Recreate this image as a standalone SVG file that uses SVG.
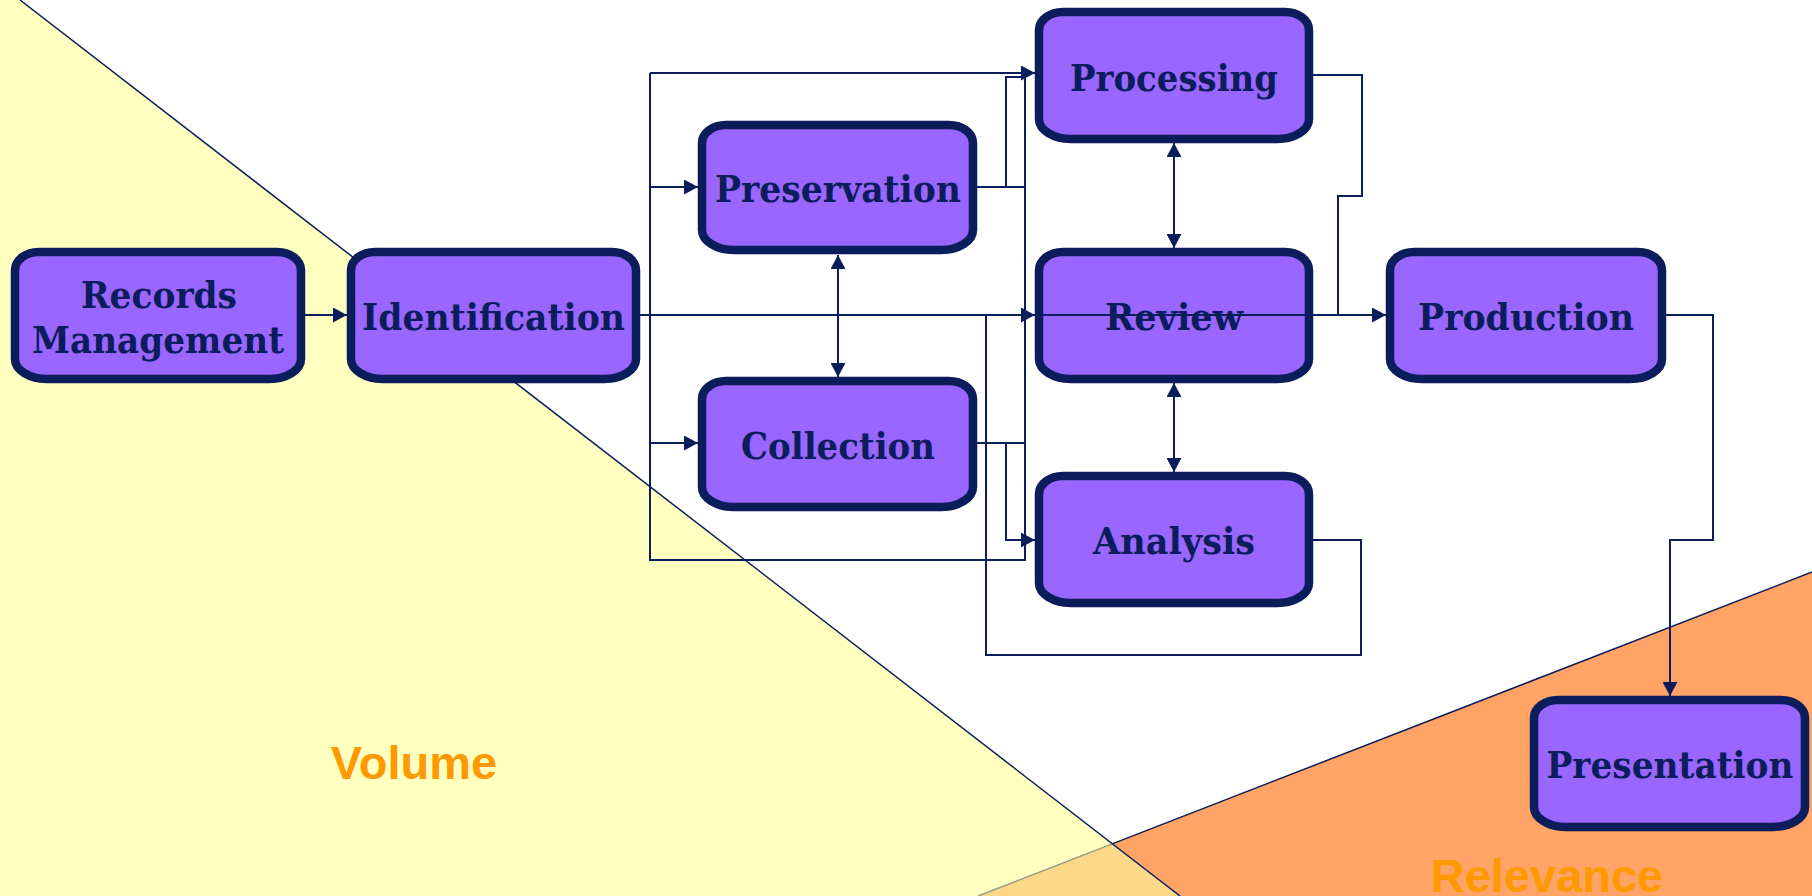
<svg xmlns="http://www.w3.org/2000/svg" width="1812" height="896" viewBox="0 0 1812 896">
<style>
.box{fill:#9966ff;stroke:#0b1d5a;stroke-width:8.5}
.lbl{font-family:"DejaVu Serif","Liberation Serif",serif;font-weight:bold;font-size:37px;fill:#0b1d5a;text-anchor:middle}
.con{fill:none;stroke:#0b1d5a;stroke-width:2}
.big{font-family:"Liberation Sans",Arial,sans-serif;font-weight:bold;font-size:47px;fill:#ff9900;text-anchor:middle}
</style>
<defs>
<marker id="ah" markerUnits="userSpaceOnUse" markerWidth="14" markerHeight="15" refX="14" refY="7.5" orient="auto-start-reverse">
<path d="M0,0 L14,7.5 L0,15 z" fill="#0b1d5a"/>
</marker>
</defs>
<rect width="1812" height="896" fill="#ffffff"/>
<g id="background">
<polygon points="0,0 20,0 1180,896 0,896" fill="#ffffc0"/>
<polygon points="978,896 1812,572 1812,896" fill="#ffa366"/>
<polygon points="1112.8,843.6 978,896 1180,896" fill="#fdd888"/>
<line x1="1812" y1="572" x2="1112.8" y2="843.6" stroke="#0b1d5a" stroke-width="1.5"/>
<line x1="1112.8" y1="843.6" x2="978" y2="896" stroke="#949c84" stroke-width="1.5"/>
<line x1="20" y1="0" x2="1180" y2="896" stroke="#0b1d5a" stroke-width="1.5"/>
<text class="big" x="414" y="779">Volume</text>
<text class="big" x="1547" y="892">Relevance</text>
</g>
<g id="records-management">
<path class="box" d="M39,252 H277 A24,18 0 0 1 301,270 V359 A32,20 0 0 1 269,379 H47 A32,20 0 0 1 15,359 V270 A24,18 0 0 1 39,252 Z"/>
<text class="lbl" x="159" y="308" textLength="156" lengthAdjust="spacingAndGlyphs">Records</text>
<text class="lbl" x="158" y="353" textLength="252" lengthAdjust="spacingAndGlyphs">Management</text>
</g>
<g id="identification">
<path class="box" d="M375,252 H612 A24,18 0 0 1 636,270 V359 A32,20 0 0 1 604,379 H383 A32,20 0 0 1 351,359 V270 A24,18 0 0 1 375,252 Z"/>
<text class="lbl" x="493.5" y="330" textLength="263" lengthAdjust="spacingAndGlyphs">Identification</text>
</g>
<g id="preservation">
<path class="box" d="M726,125 H949 A24,18 0 0 1 973,143 V230 A32,20 0 0 1 941,250 H734 A32,20 0 0 1 702,230 V143 A24,18 0 0 1 726,125 Z"/>
<text class="lbl" x="838" y="202" textLength="246" lengthAdjust="spacingAndGlyphs">Preservation</text>
</g>
<g id="collection">
<path class="box" d="M726,381 H949 A24,18 0 0 1 973,399 V487 A32,20 0 0 1 941,507 H734 A32,20 0 0 1 702,487 V399 A24,18 0 0 1 726,381 Z"/>
<text class="lbl" x="838" y="459" textLength="194" lengthAdjust="spacingAndGlyphs">Collection</text>
</g>
<g id="processing">
<path class="box" d="M1063,12 H1285 A24,18 0 0 1 1309,30 V119 A32,20 0 0 1 1277,139 H1071 A32,20 0 0 1 1039,119 V30 A24,18 0 0 1 1063,12 Z"/>
<text class="lbl" x="1174" y="91" textLength="208" lengthAdjust="spacingAndGlyphs">Processing</text>
</g>
<g id="review">
<path class="box" d="M1063,252 H1285 A24,18 0 0 1 1309,270 V359 A32,20 0 0 1 1277,379 H1071 A32,20 0 0 1 1039,359 V270 A24,18 0 0 1 1063,252 Z"/>
<text class="lbl" x="1174" y="330" textLength="138" lengthAdjust="spacingAndGlyphs">Review</text>
</g>
<g id="analysis">
<path class="box" d="M1063,476 H1285 A24,18 0 0 1 1309,494 V583 A32,20 0 0 1 1277,603 H1071 A32,20 0 0 1 1039,583 V494 A24,18 0 0 1 1063,476 Z"/>
<text class="lbl" x="1174" y="554" textLength="162" lengthAdjust="spacingAndGlyphs">Analysis</text>
</g>
<g id="production">
<path class="box" d="M1414,252 H1638 A24,18 0 0 1 1662,270 V359 A32,20 0 0 1 1630,379 H1422 A32,20 0 0 1 1390,359 V270 A24,18 0 0 1 1414,252 Z"/>
<text class="lbl" x="1526" y="330" textLength="216" lengthAdjust="spacingAndGlyphs">Production</text>
</g>
<g id="presentation">
<path class="box" d="M1558,700 H1781 A24,18 0 0 1 1805,718 V807 A32,20 0 0 1 1773,827 H1566 A32,20 0 0 1 1534,807 V718 A24,18 0 0 1 1558,700 Z"/>
<text class="lbl" x="1670" y="778" textLength="247" lengthAdjust="spacingAndGlyphs">Presentation</text>
</g>
<g id="connectors">
<path class="con" d="M305,315 H347" marker-end="url(#ah)"/>
<path class="con" d="M640,315 H1035" marker-end="url(#ah)"/>
<path class="con" d="M1035,315 H1386" marker-end="url(#ah)"/>
<path class="con" d="M650,73 H1035" marker-end="url(#ah)"/>
<path class="con" d="M650,73 V560 H1025 V77"/>
<path class="con" d="M650,187 H698" marker-end="url(#ah)"/>
<path class="con" d="M650,443 H698" marker-end="url(#ah)"/>
<path class="con" d="M977,187 H1025"/>
<path class="con" d="M1006,187 V77 H1025"/>
<path class="con" d="M977,443 H1025"/>
<path class="con" d="M1006,443 V540 H1035" marker-end="url(#ah)"/>
<path class="con" d="M1313,540 H1361 V655 H986 V315"/>
<path class="con" d="M1313,75 H1362 V196 H1338 V315"/>
<path class="con" d="M1666,315 H1713 V540 H1670 V696" marker-end="url(#ah)"/>
<path class="con" d="M838,255 V377" marker-start="url(#ah)" marker-end="url(#ah)"/>
<path class="con" d="M1174,143 V248" marker-start="url(#ah)" marker-end="url(#ah)"/>
<path class="con" d="M1174,383 V472" marker-start="url(#ah)" marker-end="url(#ah)"/>
</g>
</svg>
